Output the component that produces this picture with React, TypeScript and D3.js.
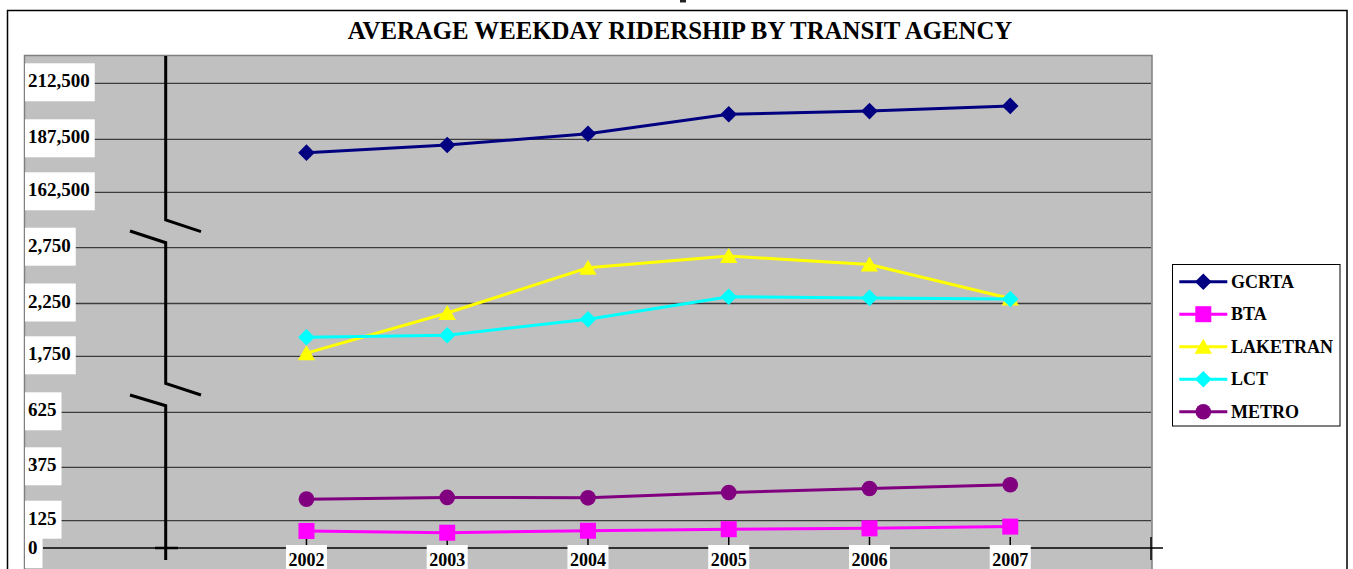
import React from "react";
import * as d3 from "d3";

// data
const years = ["2002", "2003", "2004", "2005", "2006", "2007"];
const gcrta = [181200, 184800, 190000, 198700, 200100, 202400];
const bta = [78, 70, 79, 86, 90, 98];
const laketran = [1780, 2160, 2570, 2675, 2600, 2295];
const lct = [1930, 1950, 2100, 2310, 2300, 2290];
const metro = [226, 234, 232, 257, 276, 293];

const seriesNames = ["GCRTA", "BTA", "LAKETRAN", "LCT", "METRO"];
const seriesColors = ["#000080", "#FF00FF", "#FFFF00", "#00FFFF", "#800080"];
const seriesMarkers = ["diamond", "square", "triangle", "diamond", "circle"];

// broken axis: three bands
const lowTicks = [0, 125, 375, 625];
const midTicks = [1750, 2250, 2750];
const topTicks = [162500, 187500, 212500];

const W = 1353;
const H = 569;
const FONT = "'Liberation Serif', 'Times New Roman', serif";

const x = d3.scalePoint<string>().domain(["", ...years, " "]).range([165.7, 1151]);
const yLow = d3.scaleLinear().domain(lowTicks).range([548, 520.7, 467.3, 412.3]);
const yMid = d3.scaleLinear().domain(midTicks).range([356.3, 303.5, 247.7]);
const yTop = d3.scaleLinear().domain(topTicks).range([192.3, 139.3, 83.3]);

const y = (v: number) => (v < 1000 ? yLow(v) : v < 10000 ? yMid(v) : yTop(v));

const fmt = d3.format(",");

const Marker = ({ type, cx, cy, color }: { type: string; cx: number; cy: number; color: string }) => {
  if (type === "diamond") {
    const r = 8.3;
    return <polygon points={`${cx},${cy - r} ${cx + r},${cy} ${cx},${cy + r} ${cx - r},${cy}`} fill={color} />;
  }
  if (type === "square") {
    return <rect x={cx - 8} y={cy - 8} width={16} height={16} fill={color} />;
  }
  if (type === "triangle") {
    return <polygon points={`${cx},${cy - 8} ${cx + 8.7},${cy + 7} ${cx - 8.7},${cy + 7}`} fill={color} />;
  }
  return <circle cx={cx} cy={cy} r={7.8} fill={color} />;
};

const App = () => {
  const allSeries = [gcrta, bta, laketran, lct, metro];
  const line = d3
    .line<number>()
    .x((_, i) => x(years[i]) as number)
    .y((d) => y(d));

  const gridTicks = [...lowTicks.slice(1), ...midTicks, ...topTicks];
  const labelTicks = [...lowTicks, ...midTicks, ...topTicks];
  const labelWidth = (s: string) => s.replace(/,/g, "").length * 9.5 + (s.includes(",") ? 4.75 : 0) + 8;

  return (
    <svg
      width={W}
      height={H}
      style={{ position: "absolute", left: 0, top: 0, display: "block" }}
      fontFamily={FONT}
    >
      <rect x={0} y={0} width={W} height={H} fill="#fff" />
      {/* scrap of page text cut off above the chart */}
      <rect x={680} y={0} width={6} height={2.5} fill="#222" />
      <rect x={7.5} y={10.5} width={1339.5} height={620} fill="#fff" stroke="#000" strokeWidth={1.5} />

      <text x={680} y={38.5} textAnchor="middle" fontSize={24.8} fontWeight="bold">
        AVERAGE WEEKDAY RIDERSHIP BY TRANSIT AGENCY
      </text>

      {/* plot area */}
      <rect x={24.5} y={55.5} width={1127.5} height={540} fill="#C0C0C0" stroke="#808080" strokeWidth={1.5} />

      {gridTicks.map((t) => (
        <line key={`g-${t}`} x1={25} x2={1151} y1={y(t)} y2={y(t)} stroke="#3c3c3c" strokeWidth={1.3} />
      ))}

      {/* x axis */}
      <line x1={43} x2={1163} y1={548} y2={548} stroke="#000" strokeWidth={1.5} />
      <line x1={155} x2={178} y1={548} y2={548} stroke="#000" strokeWidth={2.5} />
      <line x1={1151} x2={1151} y1={537} y2={560} stroke="#000" strokeWidth={1.5} />
      {years.map((yr) => (
        <line key={`t-${yr}`} x1={x(yr)} x2={x(yr)} y1={537} y2={548} stroke="#000" strokeWidth={1.5} />
      ))}

      {/* broken y axis */}
      <g fill="none" stroke="#000" strokeWidth={3}>
        <path d="M165.7,56 V220 L201,231.7" />
        <path d="M130,231 L165.7,242.7 V383.3 L201,395" />
        <path d="M130,395 L165.7,405.7 V560" />
      </g>

      {/* series */}
      {allSeries.map((s, si) => (
        <g key={seriesNames[si]}>
          <path d={line(s) as string} fill="none" stroke={seriesColors[si]} strokeWidth={3} />
          {s.map((v, i) => (
            <Marker key={i} type={seriesMarkers[si]} cx={x(years[i]) as number} cy={y(v)} color={seriesColors[si]} />
          ))}
        </g>
      ))}

      {/* y labels in white boxes */}
      {labelTicks.map((t) => {
        const s = fmt(t);
        const ty = y(t) + (t === 0 ? 6 : 4);
        return (
          <g key={`l-${t}`}>
            <rect x={25} y={ty - 24} width={labelWidth(s)} height={38} fill="#fff" />
            <text x={28} y={ty} fontSize={19} fontWeight="bold">{s}</text>
          </g>
        );
      })}

      {/* x labels */}
      {years.map((yr) => (
        <g key={`xl-${yr}`}>
          <rect x={(x(yr) as number) - 20.5} y={545} width={41} height={30} fill="#fff" />
          <text x={x(yr)} y={566} textAnchor="middle" fontSize={18} fontWeight="bold">{yr}</text>
        </g>
      ))}

      {/* legend */}
      <rect x={1172.5} y={264.5} width={167.5} height={161.5} fill="#fff" stroke="#000" strokeWidth={1} />
      {seriesNames.map((n, i) => {
        const ly = 281.7 + i * 32.5;
        return (
          <g key={`lg-${n}`}>
            <line x1={1179.3} x2={1227.3} y1={ly} y2={ly} stroke={seriesColors[i]} strokeWidth={3} />
            <Marker type={seriesMarkers[i]} cx={1203.3} cy={ly} color={seriesColors[i]} />
            <text x={1231} y={ly + 6} fontSize={18} fontWeight="bold">{n}</text>
          </g>
        );
      })}
    </svg>
  );
};

export default App;
